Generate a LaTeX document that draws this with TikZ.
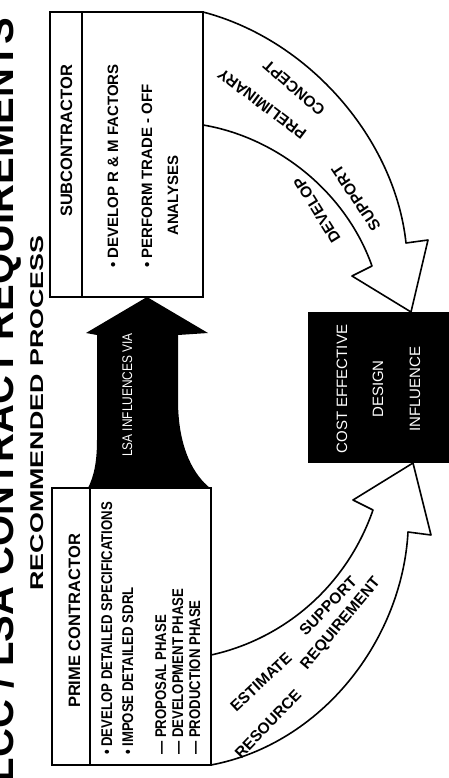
\documentclass[tikz,border=0pt]{standalone}
\usepackage{fontspec}
\setmainfont{Liberation Sans}
\newfontfamily\condfont[FakeStretch=0.85]{Liberation Sans}
\usetikzlibrary{calc}

\begin{document}
\begin{tikzpicture}[x=1pt,y=-1pt,
    boxframe/.style={draw,line width=1.3pt,inner sep=0pt},
    headtext/.style={font=\bfseries\fontsize{16.5}{18}\selectfont,rotate=90,anchor=base,inner sep=0pt},
    itemtext/.style={font=\bfseries\fontsize{15}{17}\selectfont,rotate=90,anchor=base west,inner sep=0pt},
    smalltext/.style={font=\condfont\bfseries\fontsize{15.5}{17}\selectfont,rotate=90,anchor=base west,inner sep=0pt},
    curvetext/.style={font=\bfseries\fontsize{15.5}{17}\selectfont,inner sep=0pt},
    whitetext/.style={text=white,font=\fontsize{15}{17}\selectfont,rotate=90,anchor=base,inner sep=0pt},
    wideband/.style={draw,line width=1.6pt,fill=white,line join=round}]

  \useasboundingbox (0,0) rectangle (448,778);

  % title, cut off at the left edge
  \node[font=\bfseries\fontsize{40}{44}\selectfont,rotate=90,anchor=base] (maintitle) at (13,400) {LCC / LSA CONTRACT REQUIREMENTS};
  \node[font=\bfseries\fontsize{18.5}{20}\selectfont,rotate=90,anchor=base] (subtitle) at (43,413) {\scalebox{1.45}[1]{RECOMMENDED PROCESS}};

  % curved arrows
  \draw[wideband] (203,12) .. controls (310,40) and (395,140) .. (406,243) -- (428,240) -- (411,312) -- (352,276) -- (372,266) .. controls (345,190) and (275,137) .. (203,125);
  \draw[wideband] (211,765) .. controls (322,744) and (402,640) .. (408,532) -- (431,535) -- (413,463) -- (353,500) -- (373,510) .. controls (345,590) and (280,640) .. (211,655);

  % subcontractor
  \node[boxframe,minimum width=153pt,minimum height=285pt] (subbox) at (126.5,154.5) {};
  \draw[line width=1.3pt] (82,0 |- subbox.north) -- (82,0 |- subbox.south);
  \node[headtext] (subhead) at (72,141) {SUBCONTRACTOR};
  \node[itemtext] (subitema) at (118,268) {\textbullet\ DEVELOP R \& M FACTORS};
  \node[itemtext] (subitemb) at (152,268) {\textbullet\ PERFORM TRADE - OFF};
  \node[itemtext] (subitemc) at (178,236) {ANALYSES};

  % prime contractor
  \node[boxframe,minimum width=159pt,minimum height=277pt] (primebox) at (131.5,626.5) {};
  \draw[line width=1.3pt] (90,0 |- primebox.north) -- (90,0 |- primebox.south);
  \node[headtext] (primehead) at (80,621) {PRIME CONTRACTOR};
  \node[smalltext] (primea) at (112,755) {\textbullet\ DEVELOP DETAILED SPECIFICATIONS};
  \node[smalltext] (primeb) at (133,755) {\textbullet\ IMPOSE DETAILED SDRL};
  \node[smalltext] (primec) at (166,755) {\textemdash\ PROPOSAL PHASE};
  \node[smalltext] (primed) at (183,755) {\textemdash\ DEVELOPMENT PHASE};
  \node[smalltext] (primee) at (200,755) {\textemdash\ PRODUCTION PHASE};

  % black arrow
  \fill (147,297) -- (208,333) -- (178,335) -- (178,400) .. controls (178,450) and (195,476) .. (210,488)
    -- (88,488) .. controls (93,478) and (97,465) .. (97,440) -- (97,335) -- (86,333) -- cycle;
  \node[whitetext,font=\condfont\fontsize{14}{16}\selectfont] (influ) at (132,395) {LSA INFLUENCES VIA};

  % result box
  \node[fill=black,minimum width=150pt,minimum height=151pt,inner sep=0pt] (effbox) at (383,387.5) {};
  \node[whitetext] (effa) at (347,389) {COST EFFECTIVE};
  \node[whitetext] (effb) at (383,389) {DESIGN};
  \node[whitetext] (effc) at (420,389) {INFLUENCE};

  % arrow labels
  \node[curvetext,rotate=122] (lbldev) at (317,210) {DEVELOP};
  \node[curvetext,rotate=143] (lblpre) at (262,104) {PRELIMINARY};
  \node[curvetext,rotate=124] (lblsup) at (356,198) {SUPPORT};
  \node[curvetext,rotate=139] (lblcon) at (294,88) {CONCEPT};
  \node[curvetext,rotate=43] (lblest) at (261,682) {ESTIMATE};
  \node[curvetext,rotate=46] (lblsupp) at (328,606) {SUPPORT};
  \node[curvetext,rotate=46] (lblres) at (268,724) {RESOURCE};
  \node[curvetext,rotate=50] (lblreq) at (341,624) {REQUIREMENT};
\end{tikzpicture}
\end{document}
